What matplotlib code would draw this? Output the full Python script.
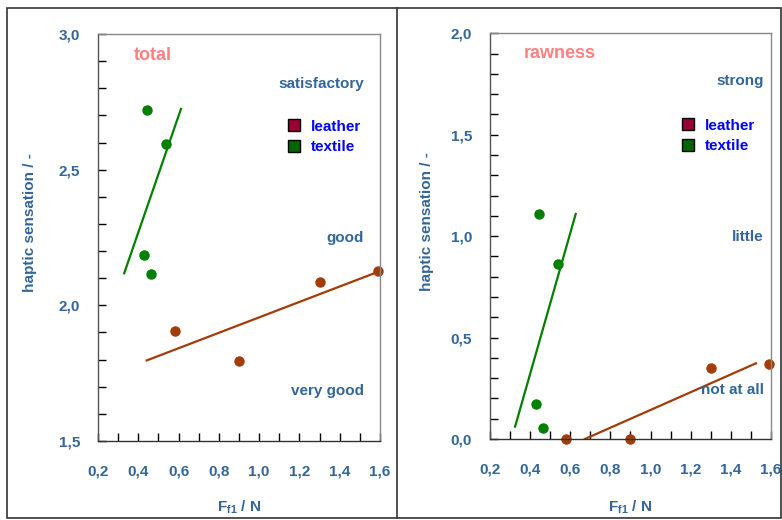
import matplotlib
matplotlib.use("Agg")
import matplotlib.pyplot as plt
from matplotlib.lines import Line2D
from matplotlib.patches import Rectangle
from matplotlib.ticker import MultipleLocator, FuncFormatter

plt.rcParams['font.family'] = ['Liberation Sans', 'DejaVu Sans']
plt.rcParams['font.weight'] = 'bold'
plt.rcParams['mathtext.fontset'] = 'custom'
plt.rcParams['mathtext.rm'] = 'Liberation Sans:bold'
plt.rcParams['mathtext.bf'] = 'Liberation Sans:bold'

# data
leather_x = [0.58, 0.90, 1.30, 1.59]
textile_x = [0.445, 0.537, 0.43, 0.462]

total_leather = [1.905, 1.795, 2.085, 2.125]
total_textile = [2.72, 2.595, 2.185, 2.115]
raw_leather = [0.0, 0.0, 0.35, 0.37]
raw_textile = [1.11, 0.865, 0.17, 0.055]

# trend line end points
total_leather_fit_x = [0.442, 1.585]
total_leather_fit_y = [1.797, 2.122]
total_textile_fit_x = [0.33, 0.612]
total_textile_fit_y = [2.118, 2.724]
raw_leather_fit_x = [0.673, 1.525]
raw_leather_fit_y = [0.0, 0.373]
raw_textile_fit_x = [0.325, 0.627]
raw_textile_fit_y = [0.061, 1.109]

total_levels = ["satisfactory", "good", "very good"]
raw_levels = ["strong", "little", "not at all"]

GREEN = '#008000'
BROWN = '#a33c08'
TXT = '#336699'
PINK = '#ff8080'

fig = plt.figure(figsize=(7.82, 5.20), dpi=100)

ax1 = fig.add_axes([0.1253, 0.1519, 0.3606, 0.7827])
ax2 = fig.add_axes([0.6266, 0.1558, 0.3593, 0.7802])

comma = FuncFormatter(lambda v, p: f"{v:.1f}".replace('.', ','))


def setup(ax, ylim, ylab_x, xlab_y):
    ax.set_xlim(0.2, 1.6)
    ax.set_ylim(*ylim)
    ax.xaxis.set_major_locator(MultipleLocator(0.2))
    ax.xaxis.set_minor_locator(MultipleLocator(0.1))
    ax.yaxis.set_major_locator(MultipleLocator(0.5))
    ax.yaxis.set_minor_locator(MultipleLocator(0.1))
    ax.xaxis.set_major_formatter(comma)
    ax.yaxis.set_major_formatter(comma)
    ax.tick_params(which='both', direction='in', length=6, width=1,
                   color='black', top=False, right=False)
    ax.tick_params(axis='x', which='major', pad=17, labelsize=11, labelcolor=TXT)
    ax.tick_params(axis='y', which='major', pad=13, labelsize=11, labelcolor=TXT)
    for s in ax.spines.values():
        s.set_color('#888888')
        s.set_linewidth(1)
    ax.spines['left'].set_color('#555555')
    ax.spines['bottom'].set_color('#333333')
    ax.set_ylabel("haptic sensation / -", fontsize=11, color=TXT, fontweight='bold')
    ax.yaxis.set_label_coords(ylab_x, 0.537)
    ax.set_xlabel(r"F$_{\mathbf{f1}}$ / N", fontsize=11, color=TXT, fontweight='bold')
    ax.xaxis.set_label_coords(0.5, xlab_y)
    ax.xaxis.label.set_va('top')


def legend(ax, x, y):
    h = [Line2D([], [], ls='none', marker='s', markersize=8,
                mfc='#990033', mec='black', mew=1),
         Line2D([], [], ls='none', marker='s', markersize=8,
                mfc='#006600', mec='black', mew=1)]
    ax.legend(h, ["leather", "textile"], loc='upper left', bbox_to_anchor=(x, y),
              frameon=False, borderpad=0, handlelength=0.8, handletextpad=0.7,
              labelspacing=0.4, labelcolor='blue',
              prop={'weight': 'bold', 'size': 11})


# left panel: total
setup(ax1, (1.5, 3.0), -0.216, -0.14)
ax1.plot(total_textile_fit_x, total_textile_fit_y, color=GREEN, lw=1.6)
ax1.plot(total_leather_fit_x, total_leather_fit_y, color=BROWN, lw=1.6)
ax1.plot(textile_x, total_textile, 'o', color=GREEN, ms=6.5, clip_on=False)
ax1.plot(leather_x, total_leather, 'o', color=BROWN, ms=6.5, clip_on=False)
ax1.text(0.195, 0.946, "total", transform=ax1.transAxes, color=PINK,
         fontsize=13, ha='center', va='center')
for lab, yy in zip(total_levels, [0.878, 0.499, 0.123]):
    ax1.text(0.943, yy, lab, transform=ax1.transAxes, color=TXT,
             fontsize=11, ha='right', va='center')
legend(ax1, 0.648, 0.808)

# right panel: rawness
setup(ax2, (0.0, 2.0), -0.199, -0.145)
ax2.plot(raw_textile_fit_x, raw_textile_fit_y, color=GREEN, lw=1.6)
ax2.plot(raw_leather_fit_x, raw_leather_fit_y, color=BROWN, lw=1.6)
ax2.plot(textile_x, raw_textile, 'o', color=GREEN, ms=6.5, clip_on=False)
ax2.plot(leather_x, raw_leather, 'o', color=BROWN, ms=6.5, clip_on=False)
ax2.text(0.249, 0.949, "rawness", transform=ax2.transAxes, color=PINK,
         fontsize=13, ha='center', va='center')
for lab, yy in zip(raw_levels, [0.883, 0.498, 0.121]):
    ax2.text(0.975, yy, lab, transform=ax2.transAxes, color=TXT,
             fontsize=11, ha='right', va='center')
legend(ax2, 0.656, 0.808)

# frame and divider
fig.add_artist(Rectangle((0.009, 0.004), 0.99, 0.981, transform=fig.transFigure,
                         fill=False, edgecolor='#333333', lw=1.2))
fig.add_artist(Line2D([0.5077, 0.5077], [0.004, 0.985], transform=fig.transFigure,
                      color='#333333', lw=1.2))

fig.savefig("out.png", dpi=100)
